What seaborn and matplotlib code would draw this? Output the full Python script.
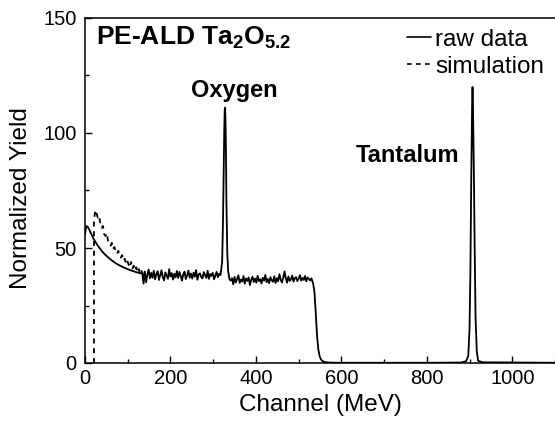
import numpy as np
import pandas as pd
import matplotlib
matplotlib.use("Agg")
import matplotlib.pyplot as plt
import seaborn as sns
from matplotlib import font_manager
from matplotlib.ticker import MultipleLocator

# ---------------- data ----------------
# raw data: smooth low-channel part
raw_x_low = [0, 3, 6, 10, 15, 20, 25, 30, 40, 50, 60, 70, 80, 90, 100, 110, 120, 130]
raw_y_low = [56, 59.5, 59.3, 58, 56, 54, 52.5, 51, 48.5, 46.6, 45.0, 43.6, 42.5, 41.6, 40.8, 40.1, 39.5, 39.0]
# noisy plateau 134..317 (step 3)
plat1_start, plat1_step = 134, 3
plat1_y = [38.9, 34.5, 39.8, 35.1, 38.4, 40.6, 36.8, 39.2, 37.0, 40.1, 36.4, 38.7,
           39.9, 36.1, 38.2, 40.3, 37.3, 35.9, 39.4, 38.0, 36.6, 40.8, 37.6, 39.1,
           36.3, 38.8, 37.2, 40.0, 36.9, 39.6, 37.8, 35.8, 38.6, 39.7, 36.5, 38.1,
           40.2, 37.1, 38.9, 36.7, 39.3, 37.5, 40.4, 36.2, 38.5, 39.0, 37.4, 36.8,
           39.5, 38.3, 37.0, 40.1, 36.6, 38.7, 37.9, 39.2, 36.4, 38.0, 39.6, 37.3,
           38.8, 38.2]
# oxygen surface peak
oxy_x = [321, 323, 325, 326, 327, 328, 329, 330, 331, 333, 335, 338, 341]
oxy_y = [44, 62, 88, 102, 110, 111, 104, 90, 70, 48, 40, 36.5, 35.8]
# noisy plateau 344..530 (step 3)
plat2_start, plat2_step = 344, 3
plat2_y = [36.9, 34.2, 37.4, 35.0, 36.6, 38.1, 34.8, 36.3, 35.4, 37.8, 34.5, 36.8,
           35.7, 37.2, 33.9, 36.1, 37.5, 35.2, 36.7, 34.9, 37.9, 35.6, 36.4, 34.6,
           37.0, 35.8, 38.3, 35.1, 36.5, 34.7, 37.3, 36.0, 35.3, 37.7, 34.8, 36.9,
           35.5, 38.6, 36.2, 35.0, 37.1, 39.8, 36.8, 34.9, 37.6, 35.7, 36.4, 38.0,
           35.4, 36.9, 37.3, 35.6, 36.7, 38.2, 35.8, 37.0, 36.1, 37.8, 35.5, 37.2,
           36.6, 35.9, 36.8]
# trailing edge and tantalum peak
tail_x = [534, 537, 540, 543, 546, 549, 552, 556, 562, 570, 590, 700, 800, 880, 892,
          897, 900, 902, 904, 906, 907, 908, 910, 912, 914, 917, 920, 930, 1000, 1100]
tail_y = [34.5, 31, 22, 12, 6, 3, 1.6, 0.8, 0.4, 0.2, 0.1, 0.1, 0.1, 0.2, 0.8,
          3, 15, 40, 80, 112, 120, 112, 85, 50, 20, 5, 1, 0.3, 0.2, 0.1]

# simulation (dashed): vertical onset then noisy decay (step 3 from 24)
sim_onset_x = [21, 21]
sim_onset_y = [0, 62]
sim_start, sim_step = 24, 3
sim_y = [66.5, 65.0, 63.2, 64.0, 60.5, 58.8, 59.6, 56.0, 55.2, 56.5, 53.0, 52.4,
         51.0, 52.2, 49.6, 50.4, 48.2, 47.5, 48.8, 46.4, 45.8, 46.9, 44.6, 45.3,
         43.2, 44.5, 42.8, 41.5, 43.9, 41.0, 42.3, 40.2, 41.6, 39.4, 40.8, 38.6,
         40.1, 39.0, 37.6, 38.9]

x_ticks = [0, 200, 400, 600, 800, 1000]
y_ticks = [0, 50, 100, 150]

# ---------------- assemble ----------------
plat1_x = list(plat1_start + plat1_step * np.arange(len(plat1_y)))
plat2_x = list(plat2_start + plat2_step * np.arange(len(plat2_y)))
sim_dec_x = list(sim_start + sim_step * np.arange(len(sim_y)))
raw = pd.DataFrame({
    "channel": raw_x_low + plat1_x + oxy_x + plat2_x + tail_x,
    "yield": raw_y_low + plat1_y + oxy_y + plat2_y + tail_y,
})
sim = pd.DataFrame({"channel": sim_onset_x + sim_dec_x, "yield": sim_onset_y + sim_y})

# ---------------- style ----------------
sns.set_style("ticks")
names = {f.name for f in font_manager.fontManager.ttflist}
base = "Liberation Sans" if "Liberation Sans" in names else "DejaVu Sans"
plt.rcParams["font.family"] = [base, "DejaVu Sans"]
plt.rcParams["mathtext.fontset"] = "custom"
plt.rcParams["mathtext.rm"] = base + ":bold"
plt.rcParams["mathtext.default"] = "rm"
for key in ("text.color", "axes.labelcolor", "xtick.color", "ytick.color", "axes.edgecolor"):
    plt.rcParams[key] = "black"

fig = plt.figure(figsize=(5.55, 4.24), dpi=100)
ax = fig.add_axes([85 / 555, 1 - 363 / 424, 1 - 85 / 555, (363 - 18) / 424])

DASH = (0, (2.8, 2.6))
sns.lineplot(data=raw, x="channel", y="yield", ax=ax, color="black", lw=1.3,
             sort=False, estimator=None, label="raw data")
sns.lineplot(data=sim, x="channel", y="yield", ax=ax, color="black", lw=1.3,
             sort=False, estimator=None, label="simulation")
ax.lines[1].set_linestyle(DASH)

ax.set_xlim(0, 1100)
ax.set_ylim(0, 150)
ax.set_xticks(x_ticks)
ax.set_yticks(y_ticks)
ax.xaxis.set_minor_locator(MultipleLocator(100))
ax.yaxis.set_minor_locator(MultipleLocator(25))
ax.tick_params(which="both", direction="in", width=1, colors="black", labelsize=14.5)
ax.tick_params(which="major", length=5)
ax.tick_params(which="minor", length=3)
ax.tick_params(axis="x", pad=4)
ax.tick_params(axis="y", pad=6)
ax.spines["right"].set_visible(False)
for s in ("left", "bottom", "top"):
    ax.spines[s].set_linewidth(1.1)
    ax.spines[s].set_color("black")

ax.set_xlabel("Channel (MeV)", fontsize=17.5, labelpad=5, color="black")
ax.set_ylabel("Normalized Yield", fontsize=17.5, color="black")
ax.yaxis.set_label_coords(-0.113, 0.478)

ax.text(26, 141.5, "PE-ALD Ta$_2$O$_{5.2}$", fontsize=19, fontweight="bold", ha="left",
        va="center", color="black")
ax.text(350, 118.5, "Oxygen", fontsize=17, fontweight="bold", ha="center", va="center",
        color="black")
ax.text(754, 90, "Tantalum", fontsize=17, fontweight="bold", ha="center", va="center",
        color="black")

leg = ax.legend(loc="upper right", bbox_to_anchor=(1.0, 1.0), frameon=False, fontsize=17.5,
                handlelength=1.0, handletextpad=0.15, labelspacing=0.2, borderaxespad=0.25,
                borderpad=0.2, labelcolor="black")
for ln in leg.get_lines():
    ln.set_linewidth(1.2)
leg.get_lines()[1].set_linestyle(DASH)

fig.savefig("out.png", dpi=100)
